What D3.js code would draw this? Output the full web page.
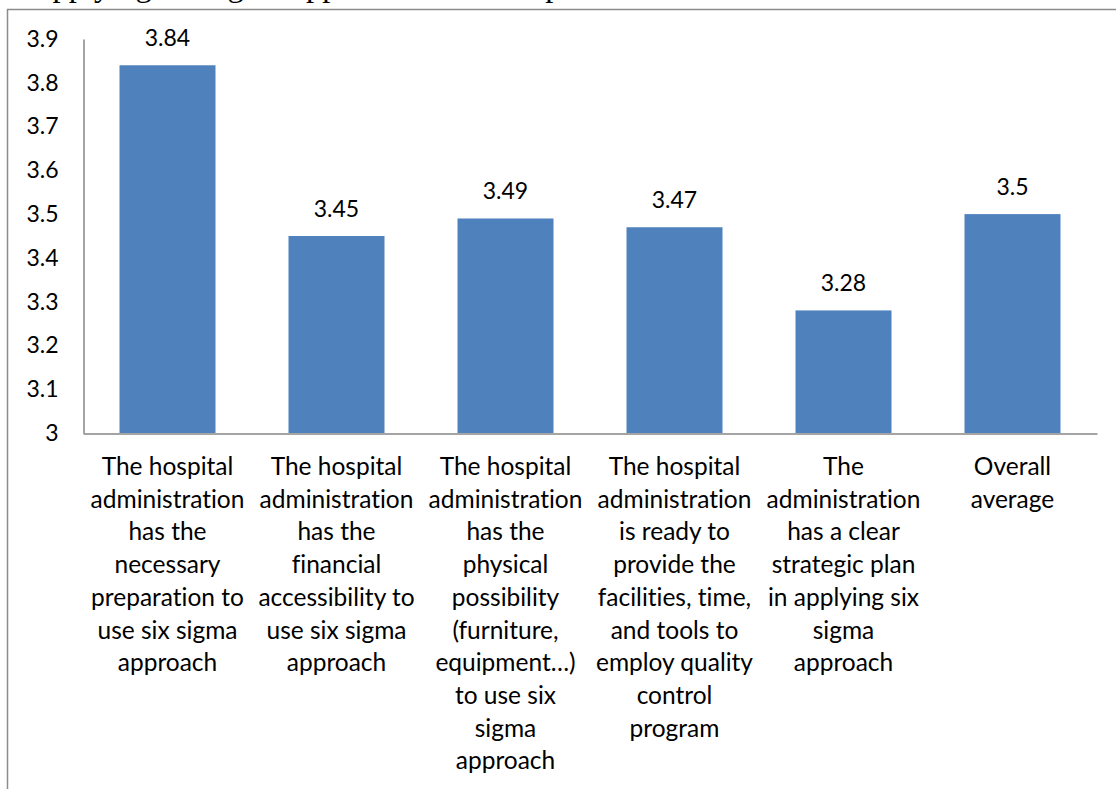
<!DOCTYPE html>
<html>
<head>
<meta charset="utf-8">
<script src="https://cdn.jsdelivr.net/npm/d3@7"></script>
<style>
  html, body { margin: 0; padding: 0; background: #fff; overflow: hidden; }
  svg { display: block; }
  text { font-variant-ligatures: none; font-feature-settings: "liga" 0; }
</style>
</head>
<body>
<svg id="chart" width="1116" height="789"></svg>
<script>
// Category labels, one entry per wrapped line
const categories = [
  ["The hospital", "administration", "has the", "necessary", "preparation to", "use six sigma", "approach"],
  ["The hospital", "administration", "has the", "financial", "accessibility to", "use six sigma", "approach"],
  ["The hospital", "administration", "has the", "physical", "possibility", "(furniture,", "equipment…)", "to use six", "sigma", "approach"],
  ["The hospital", "administration", "is ready to", "provide the", "facilities, time,", "and tools to", "employ quality", "control", "program"],
  ["The", "administration", "has a clear", "strategic plan", "in applying six", "sigma", "approach"],
  ["Overall", "average"]
];
const values = [3.84, 3.45, 3.49, 3.47, 3.28, 3.5];
const yTicks = [3, 3.1, 3.2, 3.3, 3.4, 3.5, 3.6, 3.7, 3.8, 3.9];
const headingText = "applying six sigma approach in the hospital";

const svg = d3.select("#chart");
const W = 1116, H = 789;
const plot = { left: 83, right: 1097, top: 39, bottom: 433 };
const labelFont = "Lato, 'Open Sans', sans-serif";
const barColor = "#4F81BD";
const axisColor = "#868686";

svg.append("rect").attr("width", W).attr("height", H).attr("fill", "#fff");

// Running heading from the page above the chart
svg.append("text")
  .attr("x", 38).attr("y", -4)
  .attr("font-family", "'Liberation Serif', 'Times New Roman', serif")
  .attr("font-size", 32.5)
  .attr("fill", "#000")
  .text(headingText);

// Chart area border
svg.append("rect")
  .attr("x", 7.5).attr("y", 9.5)
  .attr("width", 1300).attr("height", 1000)
  .attr("fill", "none")
  .attr("stroke", "#8c8c8c")
  .attr("stroke-width", 1.5);

const y = d3.scaleLinear().domain([3, 3.9]).range([plot.bottom, plot.top]);
const x = d3.scaleBand()
  .domain(d3.range(categories.length))
  .range([plot.left, plot.right])
  .paddingInner(0.432)
  .paddingOuter(0.216);

// Bars
svg.append("g").selectAll("rect")
  .data(values)
  .join("rect")
  .attr("x", (d, i) => x(i))
  .attr("y", d => y(d))
  .attr("width", x.bandwidth())
  .attr("height", d => y(3) - y(d))
  .attr("fill", barColor);

// Value labels
svg.append("g").selectAll("text")
  .data(values)
  .join("text")
  .attr("x", (d, i) => x(i) + x.bandwidth() / 2)
  .attr("y", d => y(d) - 19)
  .attr("text-anchor", "middle")
  .attr("font-family", labelFont)
  .attr("font-size", 23)
  .attr("fill", "#000")
  .text(d => String(d));

// Y axis (labels only, no tick marks)
const yAxis = d3.axisLeft(y)
  .tickValues(yTicks)
  .tickSize(0)
  .tickPadding(25)
  .tickFormat(d => String(+d.toFixed(1)));
const gy = svg.append("g")
  .attr("transform", `translate(${plot.left + 0.5},0)`)
  .call(yAxis);
gy.select(".domain").attr("stroke", axisColor).attr("stroke-width", 1.5);
gy.selectAll("text")
  .attr("font-family", labelFont)
  .attr("font-size", 23)
  .attr("fill", "#000");

// X axis baseline
const xAxis = d3.axisBottom(x).tickSize(0).tickFormat("");
const gx = svg.append("g")
  .attr("transform", `translate(0,${plot.bottom + 0.5})`)
  .call(xAxis);
gx.select(".domain").attr("stroke", axisColor).attr("stroke-width", 1.5);

// Wrapped category labels
const lineH = 32.7;
svg.append("g").selectAll("text")
  .data(categories)
  .join("text")
  .attr("text-anchor", "middle")
  .attr("font-family", labelFont)
  .attr("font-size", 24.5)
  .attr("fill", "#000")
  .each(function(lines, i) {
    const cx = x(i) + x.bandwidth() / 2;
    d3.select(this).selectAll("tspan")
      .data(lines)
      .join("tspan")
      .attr("x", cx)
      .attr("y", (d, k) => 475 + k * lineH)
      .text(d => d);
  });
</script>
</body>
</html>
